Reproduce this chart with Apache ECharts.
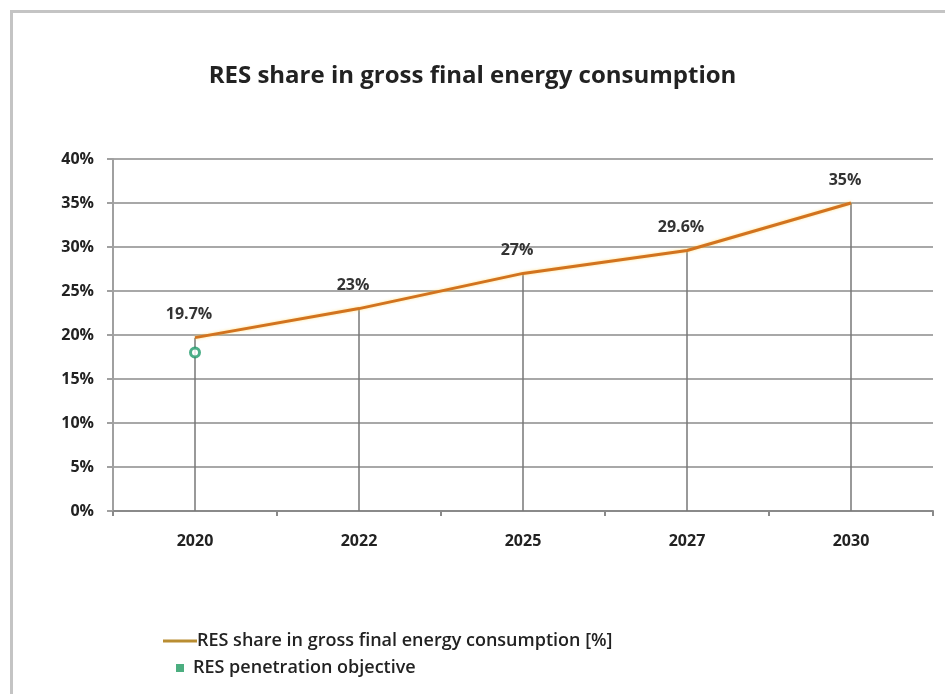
<!DOCTYPE html>
<html>
<head>
<meta charset="utf-8">
<script src="https://cdn.jsdelivr.net/npm/echarts@6/dist/echarts.min.js"></script>
<style>html,body{margin:0;padding:0;background:#fff}#c{width:945px;height:694px}</style>
</head>
<body>
<div id="c"></div>
<script>
var categories = ['2020', '2022', '2025', '2027', '2030'];
var shareValues = [19.7, 23, 27, 29.6, 35];
var shareLabels = ['19.7%', '23%', '27%', '29.6%', '35%'];
var objectiveValues = [18, null, null, null, null];
var yTicks = [0, 5, 10, 15, 20, 25, 30, 35, 40];

var lineName = 'RES share in gross final energy consumption [%]';
var objName = 'RES penetration objective';
var font = '"Open Sans", "Liberation Sans", sans-serif';

var chart = echarts.init(document.getElementById('c'), null, {renderer: 'canvas'});
chart.setOption({
  animation: false,
  backgroundColor: '#fff',
  graphic: [{
    type: 'rect', left: 9, top: 9, shape: {width: 1000, height: 800},
    style: {fill: 'none', stroke: '#c4c4c4', lineWidth: 3}, silent: true
  }],
  title: {
    text: 'RES share in gross final energy consumption',
    left: 'center', top: 59,
    textStyle: {fontFamily: font, fontSize: 24, fontWeight: 'bold', color: '#222'}
  },
  legend: [{
    data: [{name: lineName, icon: 'rect', itemStyle: {color: '#b98d32', opacity: 1}}],
    left: 158, top: 627, orient: 'vertical',
    itemWidth: 34, itemHeight: 3, itemGap: 2,
    textStyle: {fontFamily: font, fontSize: 18, fontWeight: 600, color: '#222', padding: [0,0,0,-5]}
  }, {
    data: [{name: objName, icon: 'rect', itemStyle: {color: '#1f9a60', borderWidth: 0}}],
    left: 171, top: 654, orient: 'vertical',
    itemWidth: 8, itemHeight: 8,
    textStyle: {fontFamily: font, fontSize: 18, fontWeight: 600, color: '#222', padding: [0,0,0,4]}
  }],
  grid: {left: 113, right: 12, top: 159, bottom: 183},
  xAxis: {
    type: 'category', data: categories, boundaryGap: true,
    axisLine: {lineStyle: {color: '#8a8a8a', width: 2}},
    axisTick: {show: true, length: 5, lineStyle: {color: '#8a8a8a', width: 2}},
    axisLabel: {fontFamily: font, fontSize: 16, fontWeight: 'bold', color: '#222', margin: 22},
    splitLine: {show: false}
  },
  yAxis: {
    type: 'value', min: 0, max: 40, interval: 5,
    axisLine: {show: true, lineStyle: {color: '#a0a0a0', width: 2}},
    axisTick: {show: true, length: 6, lineStyle: {color: '#a0a0a0', width: 2}},
    axisLabel: {fontFamily: font, fontSize: 16, fontWeight: 'bold', color: '#222', margin: 19,
      formatter: function (v) { return yTicks.indexOf(v) >= 0 ? v + '%' : ''; }},
    splitLine: {show: true, lineStyle: {color: '#a8a8a8', width: 2}}
  },
  series: [{
    name: 'drop', type: 'bar', data: shareValues, barWidth: 1.5, silent: true,
    itemStyle: {color: '#777'}, z: 1, legendHoverLink: false,
    label: {show: false}
  }, {
    name: lineName, type: 'line', data: shareValues, z: 3,
    symbol: 'circle', symbolSize: 2, showSymbol: true,
    lineStyle: {color: '#d2731f', width: 3, shadowColor: 'rgba(255,210,80,0.7)', shadowBlur: 3},
    itemStyle: {color: 'rgba(210,115,31,0)'},
    label: {show: true, position: 'top', distance: 14, offset: [-6, 0],
      formatter: function (p) { return shareLabels[p.dataIndex]; },
      fontFamily: font, fontSize: 16, fontWeight: 'bold', color: '#333'}
  }, {
    name: objName, type: 'scatter', data: objectiveValues, z: 4,
    symbol: 'circle', symbolSize: 9,
    itemStyle: {color: '#fff', borderColor: '#1f9a6a', borderWidth: 3}
  }]
});
</script>
</body>
</html>
